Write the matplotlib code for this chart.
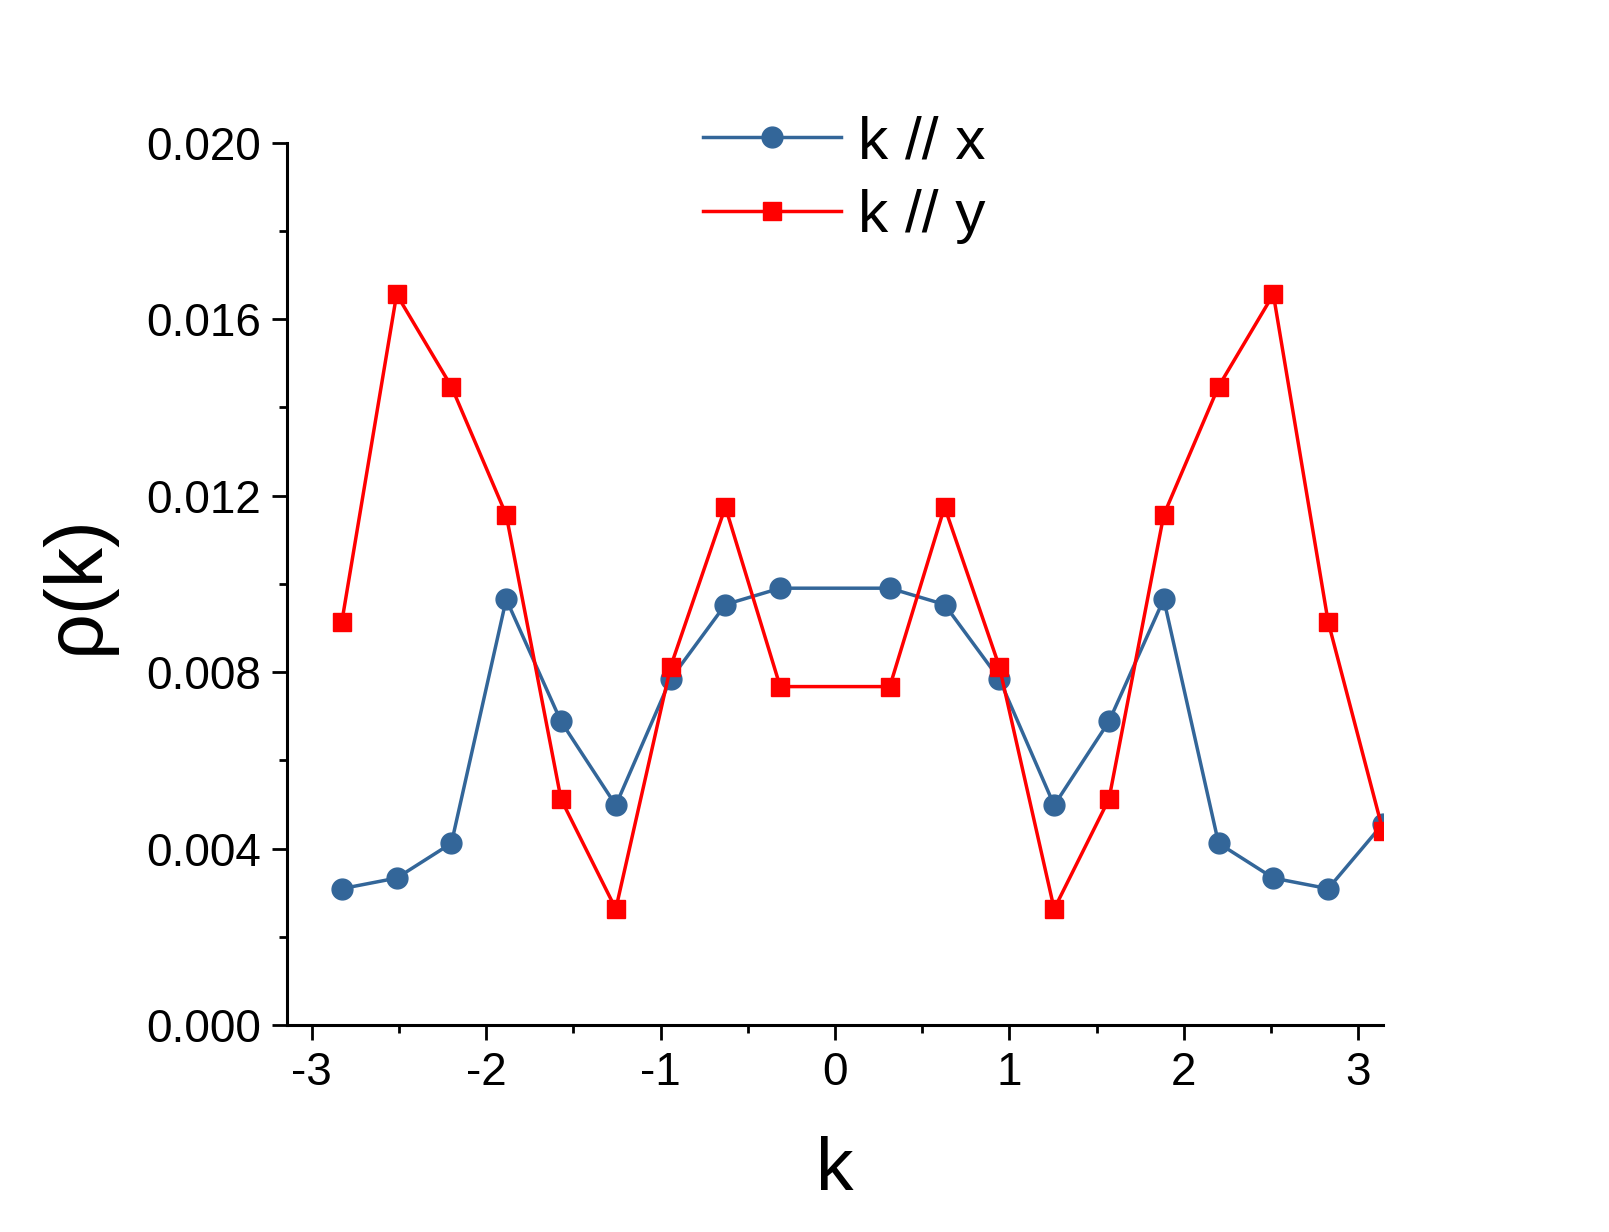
import numpy as np
import matplotlib
matplotlib.use("Agg")
import matplotlib.pyplot as plt
from matplotlib.ticker import MultipleLocator, FixedLocator, FormatStrFormatter

plt.rcParams['font.family'] = ['Liberation Sans', 'DejaVu Sans']
plt.rcParams['axes.unicode_minus'] = False

k = np.array([-9, -8, -7, -6, -5, -4, -3, -2, -1, 1, 2, 3, 4, 5, 6, 7, 8, 9, 10]) * np.pi / 10
rho_x = [0.00309, 0.00333, 0.00412, 0.00965, 0.00688, 0.00498, 0.00784, 0.00953, 0.00990,
         0.00990, 0.00953, 0.00784, 0.00498, 0.00688, 0.00965, 0.00412, 0.00333, 0.00309, 0.00456]
rho_y = [0.00914, 0.01656, 0.01447, 0.01156, 0.00512, 0.00263, 0.00812, 0.01174, 0.00767,
         0.00767, 0.01174, 0.00812, 0.00263, 0.00512, 0.01156, 0.01447, 0.01656, 0.00914, 0.00440]

fig = plt.figure(figsize=(16.09, 12.32), dpi=100)
ax = fig.add_axes([0.1784, 0.168, 0.6811, 0.7163])

ax.plot(k, rho_x, color='#336699', lw=2.5, marker='o', ms=15, label='k // x')
ax.plot(k, rho_y, color='#ff0000', lw=2.5, marker='s', ms=13, label='k // y')

ax.set_xlim(-np.pi, np.pi)
ax.set_ylim(0, 0.020)
ax.xaxis.set_major_locator(FixedLocator([-3, -2, -1, 0, 1, 2, 3]))
ax.xaxis.set_minor_locator(FixedLocator([-2.5, -1.5, -0.5, 0.5, 1.5, 2.5]))
ax.yaxis.set_major_locator(MultipleLocator(0.004))
ax.yaxis.set_minor_locator(MultipleLocator(0.002))
ax.yaxis.set_major_formatter(FormatStrFormatter('%.3f'))

for s in ['top', 'right']:
    ax.spines[s].set_visible(False)
for s in ['left', 'bottom']:
    ax.spines[s].set_linewidth(2.2)

ax.tick_params(which='major', direction='out', length=11, width=2, labelsize=33, pad=8)
ax.tick_params(which='minor', direction='out', length=6, width=2)

ax.set_xlabel('k', fontsize=54, labelpad=29)
ax.set_ylabel('ρ(k)', fontsize=58, labelpad=22)

leg = ax.legend(loc='center', bbox_to_anchor=(0.5245, 0.854), bbox_transform=fig.transFigure,
                frameon=False, fontsize=43.5, handlelength=2.3, handletextpad=0.27,
                labelspacing=0.31)

fig.savefig('out.png', dpi=100)
